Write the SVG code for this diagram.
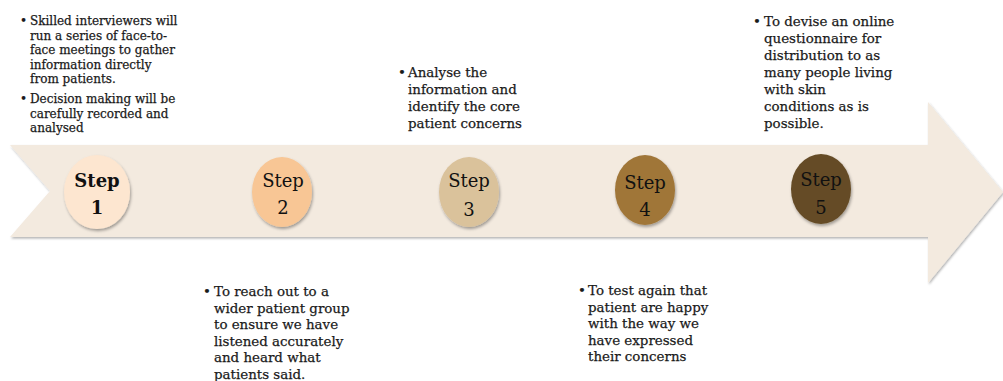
<svg xmlns="http://www.w3.org/2000/svg" width="1003" height="381" viewBox="0 0 1003 381">
<style>
.t{font-family:"DejaVu Serif","Liberation Serif",serif;fill:#1a1a1a;stroke:#1a1a1a;stroke-width:0.25;}
.b1{font-size:12px;}
.b2{font-size:13.4px;}
.st{font-family:"DejaVu Serif","Liberation Serif",serif;fill:#111;text-anchor:middle;font-size:18px;}
.st1{font-weight:bold;}
</style>
<defs>
<filter id="sh" x="-20%" y="-20%" width="140%" height="140%">
<feDropShadow dx="1" dy="2" stdDeviation="1.5" flood-color="#000" flood-opacity="0.35"/>
</filter>
<filter id="bsh" x="-5%" y="-10%" width="110%" height="120%">
<feDropShadow dx="1" dy="1.5" stdDeviation="1" flood-color="#000" flood-opacity="0.3"/>
</filter>
</defs>
<g id="arrow">
<polygon points="10,145 928,145 928,102 1003,192 928,283 928,237 10,237 50,191" fill="#f3eadf" filter="url(#bsh)"/>
</g>
<g id="step1">
<ellipse cx="97" cy="192" rx="33" ry="37" fill="#fde6d0" filter="url(#sh)"/>
<text class="st st1" x="97" y="187" font-size="19">Step</text>
<text class="st st1" x="97" y="214" font-size="16">1</text>
</g>
<g id="step2">
<ellipse cx="282" cy="192" rx="30" ry="35" fill="#f8c695" filter="url(#sh)"/>
<text class="st" x="283" y="187">Step</text>
<text class="st" x="283" y="214" font-size="16">2</text>
</g>
<g id="step3">
<ellipse cx="469" cy="192" rx="30" ry="35" fill="#dac29b" filter="url(#sh)"/>
<text class="st" x="469" y="187">Step</text>
<text class="st" x="469" y="216" font-size="17">3</text>
</g>
<g id="step4">
<ellipse cx="645" cy="190" rx="30" ry="35" fill="#a07639" filter="url(#sh)"/>
<text class="st" x="645" y="189">Step</text>
<text class="st" x="645" y="216" font-size="17">4</text>
</g>
<g id="step5">
<ellipse cx="821" cy="189" rx="30" ry="35" fill="#654c26" filter="url(#sh)"/>
<text class="st" x="821" y="186">Step</text>
<text class="st" x="821" y="214" font-size="17">5</text>
</g>
<g id="note1" class="t b1">
<text x="20" y="25">•</text>
<text x="30" y="25">Skilled interviewers will</text>
<text x="30" y="39.5">run a series of face-to-</text>
<text x="30" y="54">face meetings to gather</text>
<text x="30" y="68.5">information directly</text>
<text x="30" y="83">from patients.</text>
<text x="20" y="103">•</text>
<text x="30" y="103">Decision making will be</text>
<text x="30" y="117.5">carefully recorded and</text>
<text x="30" y="132">analysed</text>
</g>
<g id="note3" class="t b2">
<text x="398" y="77">•</text>
<text x="408" y="77">Analyse the</text>
<text x="408" y="94">information and</text>
<text x="408" y="111">identify the core</text>
<text x="408" y="128">patient concerns</text>
</g>
<g id="note5" class="t b2">
<text x="753" y="26">•</text>
<text x="764" y="26">To devise an online</text>
<text x="764" y="43">questionnaire for</text>
<text x="764" y="60">distribution to as</text>
<text x="764" y="77">many people living</text>
<text x="764" y="94">with skin</text>
<text x="764" y="111">conditions as is</text>
<text x="764" y="128">possible.</text>
</g>
<g id="note2" class="t b2">
<text x="203" y="296">•</text>
<text x="214" y="296">To reach out to a</text>
<text x="214" y="312.5">wider patient group</text>
<text x="214" y="329">to ensure we have</text>
<text x="214" y="345.5">listened accurately</text>
<text x="214" y="362">and heard what</text>
<text x="214" y="378.5">patients said.</text>
</g>
<g id="note4" class="t b2">
<text x="578" y="295">•</text>
<text x="588" y="295">To test again that</text>
<text x="588" y="311.5">patient are happy</text>
<text x="588" y="328">with the way we</text>
<text x="588" y="344.5">have expressed</text>
<text x="588" y="361">their concerns</text>
</g>
</svg>
